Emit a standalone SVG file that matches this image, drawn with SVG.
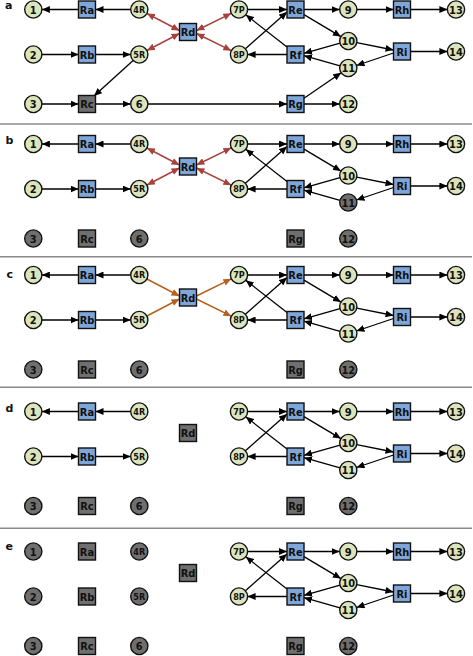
<svg xmlns="http://www.w3.org/2000/svg" width="473" height="656" viewBox="0 0 473 656">
<style>
.c{fill:#dbe5bd;stroke:#111;stroke-width:1.4}
.cg{fill:#6f6f6f;stroke:#111;stroke-width:1.4}
.b{fill:#7ea6d8;stroke:#111;stroke-width:1.4}
.bg{fill:#6f6f6f;stroke:#111;stroke-width:1.4}
.t{font-family:"DejaVu Sans Condensed","DejaVu Sans",sans-serif;font-size:11px;font-weight:bold;text-anchor:middle;fill:#111}
.ts{font-size:9px}
.e{fill:none;stroke:#000;stroke-width:1.3;marker-end:url(#ah)}
.r{fill:none;stroke:#a8413c;stroke-width:1.5;marker-end:url(#ahr);marker-start:url(#ahr)}
.o{fill:none;stroke:#b5601c;stroke-width:1.5;marker-end:url(#aho)}
.sep{stroke:#8a8a8a;stroke-width:1.5}
.lbl{font-family:"DejaVu Sans",sans-serif;font-size:11px;font-weight:bold;fill:#111}
</style>
<defs>
<marker id="ah" viewBox="0 0 8 7" refX="8" refY="3.5" markerWidth="8" markerHeight="7" markerUnits="userSpaceOnUse" orient="auto"><path d="M0,0 L8,3.5 L0,7 z" fill="#000"/></marker>
<marker id="ahr" viewBox="0 0 8 7" refX="8" refY="3.5" markerWidth="8" markerHeight="7" markerUnits="userSpaceOnUse" orient="auto-start-reverse"><path d="M0,0 L8,3.5 L0,7 z" fill="#a8413c"/></marker>
<marker id="aho" viewBox="0 0 8 7" refX="8" refY="3.5" markerWidth="8" markerHeight="7" markerUnits="userSpaceOnUse" orient="auto"><path d="M0,0 L8,3.5 L0,7 z" fill="#b5601c"/></marker>
</defs>

<g id="separators">
<line class="sep" x1="0" y1="124" x2="472" y2="124"/>
<line class="sep" x1="0" y1="256.7" x2="472" y2="256.7"/>
<line class="sep" x1="0" y1="387.3" x2="472" y2="387.3"/>
<line class="sep" x1="0" y1="528.3" x2="472" y2="528.3"/>
</g>
<g id="panel-labels">
<text class="lbl" x="5" y="8.5">a</text>
<text class="lbl" x="5.5" y="144">b</text>
<text class="lbl" x="6.5" y="278">c</text>
<text class="lbl" x="5.5" y="411.7">d</text>
<text class="lbl" x="5.5" y="550">e</text>
</g>

<!-- PANEL A -->
<g id="panel-a">
<g id="a-edges">
<path class="e" d="M130.7,9.5 L95.5,9.5"/>
<path class="e" d="M78.5,9.5 L41.9,9.5"/>
<path class="e" d="M41.9,54.5 L78.5,54.5"/>
<path class="e" d="M95.5,54.5 L130.7,54.5"/>
<path class="e" d="M133.1,60.4 L94,96"/>
<path class="e" d="M41.9,104 L78.5,104"/>
<path class="e" d="M95.5,104 L130.7,104"/>
<path class="e" d="M147.9,104 L287,104"/>
<path class="e" d="M304,104 L339.7,104"/>
<path class="e" d="M247.6,9.5 L287,9.5"/>
<path class="e" d="M245.4,48.8 L287,12"/>
<path class="e" d="M287,47 L245.8,14.8"/>
<path class="e" d="M287,54.5 L247.6,54.5"/>
<path class="e" d="M304,9.5 L339.7,9.5"/>
<path class="e" d="M356.9,9.5 L393.5,9.5"/>
<path class="e" d="M410.5,9.5 L447.4,9.5"/>
<path class="e" d="M304,14.6 L340.9,36.6"/>
<path class="e" d="M340,43.1 L304,53.3"/>
<path class="e" d="M340,65.9 L304,55.7"/>
<path class="e" d="M356.7,42.6 L393.5,50"/>
<path class="e" d="M393.5,53 L356.5,65.5"/>
<path class="e" d="M410.5,51.5 L447.4,51.5"/>
<path class="e" d="M304,98.2 L341.2,72.8"/>
<path class="r" d="M179.5,30.5 L146.9,13.5"/>
<path class="r" d="M179.5,33.5 L146.9,50.5"/>
<path class="r" d="M196.5,30.5 L231.3,13.3"/>
<path class="r" d="M196.5,33.5 L231.3,50.7"/>
</g>
<g id="a-n1"><circle class="c" cx="33.3" cy="9.5" r="8.6"/><text class="t" x="33.3" y="13.5">1</text></g>
<g id="a-Ra"><rect class="b" x="78.5" y="1" width="17" height="17"/><text class="t" x="87" y="13.5">Ra</text></g>
<g id="a-n4R"><circle class="c" cx="139.3" cy="9.5" r="8.6"/><text class="t ts" x="139.3" y="12.8">4R</text></g>
<g id="a-Rd"><rect class="b" x="179.5" y="23.5" width="17" height="17"/><text class="t" x="188" y="36">Rd</text></g>
<g id="a-n7P"><circle class="c" cx="239" cy="9.5" r="8.6"/><text class="t ts" x="239" y="12.8">7P</text></g>
<g id="a-Re"><rect class="b" x="287" y="1" width="17" height="17"/><text class="t" x="295.5" y="13.5">Re</text></g>
<g id="a-n9"><circle class="c" cx="348.3" cy="9.5" r="8.6"/><text class="t" x="348.3" y="13.5">9</text></g>
<g id="a-Rh"><rect class="b" x="393.5" y="1" width="17" height="17"/><text class="t" x="402" y="13.5">Rh</text></g>
<g id="a-n13"><circle class="c" cx="456" cy="9.5" r="8.6"/><text class="t" x="456" y="13.5">13</text></g>
<g id="a-n2"><circle class="c" cx="33.3" cy="54.5" r="8.6"/><text class="t" x="33.3" y="58.5">2</text></g>
<g id="a-Rb"><rect class="b" x="78.5" y="46" width="17" height="17"/><text class="t" x="87" y="58.5">Rb</text></g>
<g id="a-n5R"><circle class="c" cx="139.3" cy="54.5" r="8.6"/><text class="t ts" x="139.3" y="57.8">5R</text></g>
<g id="a-n8P"><circle class="c" cx="239" cy="54.5" r="8.6"/><text class="t ts" x="239" y="57.8">8P</text></g>
<g id="a-Rf"><rect class="b" x="287" y="46" width="17" height="17"/><text class="t" x="295.5" y="58.5">Rf</text></g>
<g id="a-n10"><circle class="c" cx="348.3" cy="41" r="8.6"/><text class="t" x="348.3" y="45">10</text></g>
<g id="a-Ri"><rect class="b" x="393.5" y="43" width="17" height="17"/><text class="t" x="402" y="55.5">Ri</text></g>
<g id="a-n14"><circle class="c" cx="456" cy="51.5" r="8.6"/><text class="t" x="456" y="55.5">14</text></g>
<g id="a-n11"><circle class="c" cx="348.3" cy="68" r="8.6"/><text class="t" x="348.3" y="72">11</text></g>
<g id="a-n3"><circle class="c" cx="33.3" cy="104" r="8.6"/><text class="t" x="33.3" y="108">3</text></g>
<g id="a-Rc"><rect class="bg" x="78.5" y="95.5" width="17" height="17"/><text class="t" x="87" y="108">Rc</text></g>
<g id="a-n6"><circle class="c" cx="139.3" cy="104" r="8.6"/><text class="t" x="139.3" y="108">6</text></g>
<g id="a-Rg"><rect class="b" x="287" y="95.5" width="17" height="17"/><text class="t" x="295.5" y="108">Rg</text></g>
<g id="a-n12"><circle class="c" cx="348.3" cy="104" r="8.6"/><text class="t" x="348.3" y="108">12</text></g>
</g>

<!-- PANEL B -->
<g id="panel-b" transform="translate(0,134.5)">
<g id="b-edges">
<path class="e" d="M130.7,9.5 L95.5,9.5"/>
<path class="e" d="M78.5,9.5 L41.9,9.5"/>
<path class="e" d="M41.9,54.5 L78.5,54.5"/>
<path class="e" d="M95.5,54.5 L130.7,54.5"/>
<path class="e" d="M247.6,9.5 L287,9.5"/>
<path class="e" d="M245.4,48.8 L287,12"/>
<path class="e" d="M287,47 L245.8,14.8"/>
<path class="e" d="M287,54.5 L247.6,54.5"/>
<path class="e" d="M304,9.5 L339.7,9.5"/>
<path class="e" d="M356.9,9.5 L393.5,9.5"/>
<path class="e" d="M410.5,9.5 L447.4,9.5"/>
<path class="e" d="M304,14.6 L340.9,36.6"/>
<path class="e" d="M340,43.1 L304,53.3"/>
<path class="e" d="M340,65.9 L304,55.7"/>
<path class="e" d="M356.7,42.6 L393.5,50"/>
<path class="e" d="M393.5,53 L356.5,65.5"/>
<path class="e" d="M410.5,51.5 L447.4,51.5"/>
<path class="r" d="M179.5,30.5 L146.9,13.5"/>
<path class="r" d="M179.5,33.5 L146.9,50.5"/>
<path class="r" d="M196.5,30.5 L231.3,13.3"/>
<path class="r" d="M196.5,33.5 L231.3,50.7"/>
</g>
<g id="b-n1"><circle class="c" cx="33.3" cy="9.5" r="8.6"/><text class="t" x="33.3" y="13.5">1</text></g>
<g id="b-Ra"><rect class="b" x="78.5" y="1" width="17" height="17"/><text class="t" x="87" y="13.5">Ra</text></g>
<g id="b-n4R"><circle class="c" cx="139.3" cy="9.5" r="8.6"/><text class="t ts" x="139.3" y="12.8">4R</text></g>
<g id="b-Rd"><rect class="b" x="179.5" y="23.5" width="17" height="17"/><text class="t" x="188" y="36">Rd</text></g>
<g id="b-n7P"><circle class="c" cx="239" cy="9.5" r="8.6"/><text class="t ts" x="239" y="12.8">7P</text></g>
<g id="b-Re"><rect class="b" x="287" y="1" width="17" height="17"/><text class="t" x="295.5" y="13.5">Re</text></g>
<g id="b-n9"><circle class="c" cx="348.3" cy="9.5" r="8.6"/><text class="t" x="348.3" y="13.5">9</text></g>
<g id="b-Rh"><rect class="b" x="393.5" y="1" width="17" height="17"/><text class="t" x="402" y="13.5">Rh</text></g>
<g id="b-n13"><circle class="c" cx="456" cy="9.5" r="8.6"/><text class="t" x="456" y="13.5">13</text></g>
<g id="b-n2"><circle class="c" cx="33.3" cy="54.5" r="8.6"/><text class="t" x="33.3" y="58.5">2</text></g>
<g id="b-Rb"><rect class="b" x="78.5" y="46" width="17" height="17"/><text class="t" x="87" y="58.5">Rb</text></g>
<g id="b-n5R"><circle class="c" cx="139.3" cy="54.5" r="8.6"/><text class="t ts" x="139.3" y="57.8">5R</text></g>
<g id="b-n8P"><circle class="c" cx="239" cy="54.5" r="8.6"/><text class="t ts" x="239" y="57.8">8P</text></g>
<g id="b-Rf"><rect class="b" x="287" y="46" width="17" height="17"/><text class="t" x="295.5" y="58.5">Rf</text></g>
<g id="b-n10"><circle class="c" cx="348.3" cy="41" r="8.6"/><text class="t" x="348.3" y="45">10</text></g>
<g id="b-Ri"><rect class="b" x="393.5" y="43" width="17" height="17"/><text class="t" x="402" y="55.5">Ri</text></g>
<g id="b-n14"><circle class="c" cx="456" cy="51.5" r="8.6"/><text class="t" x="456" y="55.5">14</text></g>
<g id="b-n11"><circle class="cg" cx="348.3" cy="68" r="8.6"/><text class="t" x="348.3" y="72">11</text></g>
<g id="b-n3"><circle class="cg" cx="33.3" cy="104" r="8.6"/><text class="t" x="33.3" y="108">3</text></g>
<g id="b-Rc"><rect class="bg" x="78.5" y="95.5" width="17" height="17"/><text class="t" x="87" y="108">Rc</text></g>
<g id="b-n6"><circle class="cg" cx="139.3" cy="104" r="8.6"/><text class="t" x="139.3" y="108">6</text></g>
<g id="b-Rg"><rect class="bg" x="287" y="95.5" width="17" height="17"/><text class="t" x="295.5" y="108">Rg</text></g>
<g id="b-n12"><circle class="cg" cx="348.3" cy="104" r="8.6"/><text class="t" x="348.3" y="108">12</text></g>
</g>

<!-- PANEL C -->
<g id="panel-c" transform="translate(0,265.5)">
<g id="c-edges">
<path class="e" d="M130.7,9.5 L95.5,9.5"/>
<path class="e" d="M78.5,9.5 L41.9,9.5"/>
<path class="e" d="M41.9,54.5 L78.5,54.5"/>
<path class="e" d="M95.5,54.5 L130.7,54.5"/>
<path class="e" d="M247.6,9.5 L287,9.5"/>
<path class="e" d="M245.4,48.8 L287,12"/>
<path class="e" d="M287,47 L245.8,14.8"/>
<path class="e" d="M287,54.5 L247.6,54.5"/>
<path class="e" d="M304,9.5 L339.7,9.5"/>
<path class="e" d="M356.9,9.5 L393.5,9.5"/>
<path class="e" d="M410.5,9.5 L447.4,9.5"/>
<path class="e" d="M304,14.6 L340.9,36.6"/>
<path class="e" d="M340,43.1 L304,53.3"/>
<path class="e" d="M340,65.9 L304,55.7"/>
<path class="e" d="M356.7,42.6 L393.5,50"/>
<path class="e" d="M393.5,53 L356.5,65.5"/>
<path class="e" d="M410.5,51.5 L447.4,51.5"/>
<path class="o" d="M146.9,13.5 L179.5,30.5"/>
<path class="o" d="M146.9,50.5 L179.5,33.5"/>
<path class="o" d="M196.5,30.5 L231.3,13.3"/>
<path class="o" d="M196.5,33.5 L231.3,50.7"/>
</g>
<g id="c-n1"><circle class="c" cx="33.3" cy="9.5" r="8.6"/><text class="t" x="33.3" y="13.5">1</text></g>
<g id="c-Ra"><rect class="b" x="78.5" y="1" width="17" height="17"/><text class="t" x="87" y="13.5">Ra</text></g>
<g id="c-n4R"><circle class="c" cx="139.3" cy="9.5" r="8.6"/><text class="t ts" x="139.3" y="12.8">4R</text></g>
<g id="c-Rd"><rect class="b" x="179.5" y="23.5" width="17" height="17"/><text class="t" x="188" y="36">Rd</text></g>
<g id="c-n7P"><circle class="c" cx="239" cy="9.5" r="8.6"/><text class="t ts" x="239" y="12.8">7P</text></g>
<g id="c-Re"><rect class="b" x="287" y="1" width="17" height="17"/><text class="t" x="295.5" y="13.5">Re</text></g>
<g id="c-n9"><circle class="c" cx="348.3" cy="9.5" r="8.6"/><text class="t" x="348.3" y="13.5">9</text></g>
<g id="c-Rh"><rect class="b" x="393.5" y="1" width="17" height="17"/><text class="t" x="402" y="13.5">Rh</text></g>
<g id="c-n13"><circle class="c" cx="456" cy="9.5" r="8.6"/><text class="t" x="456" y="13.5">13</text></g>
<g id="c-n2"><circle class="c" cx="33.3" cy="54.5" r="8.6"/><text class="t" x="33.3" y="58.5">2</text></g>
<g id="c-Rb"><rect class="b" x="78.5" y="46" width="17" height="17"/><text class="t" x="87" y="58.5">Rb</text></g>
<g id="c-n5R"><circle class="c" cx="139.3" cy="54.5" r="8.6"/><text class="t ts" x="139.3" y="57.8">5R</text></g>
<g id="c-n8P"><circle class="c" cx="239" cy="54.5" r="8.6"/><text class="t ts" x="239" y="57.8">8P</text></g>
<g id="c-Rf"><rect class="b" x="287" y="46" width="17" height="17"/><text class="t" x="295.5" y="58.5">Rf</text></g>
<g id="c-n10"><circle class="c" cx="348.3" cy="41" r="8.6"/><text class="t" x="348.3" y="45">10</text></g>
<g id="c-Ri"><rect class="b" x="393.5" y="43" width="17" height="17"/><text class="t" x="402" y="55.5">Ri</text></g>
<g id="c-n14"><circle class="c" cx="456" cy="51.5" r="8.6"/><text class="t" x="456" y="55.5">14</text></g>
<g id="c-n11"><circle class="c" cx="348.3" cy="68" r="8.6"/><text class="t" x="348.3" y="72">11</text></g>
<g id="c-n3"><circle class="cg" cx="33.3" cy="104" r="8.6"/><text class="t" x="33.3" y="108">3</text></g>
<g id="c-Rc"><rect class="bg" x="78.5" y="95.5" width="17" height="17"/><text class="t" x="87" y="108">Rc</text></g>
<g id="c-n6"><circle class="cg" cx="139.3" cy="104" r="8.6"/><text class="t" x="139.3" y="108">6</text></g>
<g id="c-Rg"><rect class="bg" x="287" y="95.5" width="17" height="17"/><text class="t" x="295.5" y="108">Rg</text></g>
<g id="c-n12"><circle class="cg" cx="348.3" cy="104" r="8.6"/><text class="t" x="348.3" y="108">12</text></g>
</g>

<!-- PANEL D -->
<g id="panel-d" transform="translate(0,402)">
<g id="d-edges">
<path class="e" d="M130.7,9.5 L95.5,9.5"/>
<path class="e" d="M78.5,9.5 L41.9,9.5"/>
<path class="e" d="M41.9,54.5 L78.5,54.5"/>
<path class="e" d="M95.5,54.5 L130.7,54.5"/>
<path class="e" d="M247.6,9.5 L287,9.5"/>
<path class="e" d="M245.4,48.8 L287,12"/>
<path class="e" d="M287,47 L245.8,14.8"/>
<path class="e" d="M287,54.5 L247.6,54.5"/>
<path class="e" d="M304,9.5 L339.7,9.5"/>
<path class="e" d="M356.9,9.5 L393.5,9.5"/>
<path class="e" d="M410.5,9.5 L447.4,9.5"/>
<path class="e" d="M304,14.6 L340.9,36.6"/>
<path class="e" d="M340,43.1 L304,53.3"/>
<path class="e" d="M340,65.9 L304,55.7"/>
<path class="e" d="M356.7,42.6 L393.5,50"/>
<path class="e" d="M393.5,53 L356.5,65.5"/>
<path class="e" d="M410.5,51.5 L447.4,51.5"/>
</g>
<g id="d-n1"><circle class="c" cx="33.3" cy="9.5" r="8.6"/><text class="t" x="33.3" y="13.5">1</text></g>
<g id="d-Ra"><rect class="b" x="78.5" y="1" width="17" height="17"/><text class="t" x="87" y="13.5">Ra</text></g>
<g id="d-n4R"><circle class="c" cx="139.3" cy="9.5" r="8.6"/><text class="t ts" x="139.3" y="12.8">4R</text></g>
<g id="d-Rd"><rect class="bg" x="179.5" y="22.5" width="17" height="17"/><text class="t" x="188" y="35">Rd</text></g>
<g id="d-n7P"><circle class="c" cx="239" cy="9.5" r="8.6"/><text class="t ts" x="239" y="12.8">7P</text></g>
<g id="d-Re"><rect class="b" x="287" y="1" width="17" height="17"/><text class="t" x="295.5" y="13.5">Re</text></g>
<g id="d-n9"><circle class="c" cx="348.3" cy="9.5" r="8.6"/><text class="t" x="348.3" y="13.5">9</text></g>
<g id="d-Rh"><rect class="b" x="393.5" y="1" width="17" height="17"/><text class="t" x="402" y="13.5">Rh</text></g>
<g id="d-n13"><circle class="c" cx="456" cy="9.5" r="8.6"/><text class="t" x="456" y="13.5">13</text></g>
<g id="d-n2"><circle class="c" cx="33.3" cy="54.5" r="8.6"/><text class="t" x="33.3" y="58.5">2</text></g>
<g id="d-Rb"><rect class="b" x="78.5" y="46" width="17" height="17"/><text class="t" x="87" y="58.5">Rb</text></g>
<g id="d-n5R"><circle class="c" cx="139.3" cy="54.5" r="8.6"/><text class="t ts" x="139.3" y="57.8">5R</text></g>
<g id="d-n8P"><circle class="c" cx="239" cy="54.5" r="8.6"/><text class="t ts" x="239" y="57.8">8P</text></g>
<g id="d-Rf"><rect class="b" x="287" y="46" width="17" height="17"/><text class="t" x="295.5" y="58.5">Rf</text></g>
<g id="d-n10"><circle class="c" cx="348.3" cy="41" r="8.6"/><text class="t" x="348.3" y="45">10</text></g>
<g id="d-Ri"><rect class="b" x="393.5" y="43" width="17" height="17"/><text class="t" x="402" y="55.5">Ri</text></g>
<g id="d-n14"><circle class="c" cx="456" cy="51.5" r="8.6"/><text class="t" x="456" y="55.5">14</text></g>
<g id="d-n11"><circle class="c" cx="348.3" cy="68" r="8.6"/><text class="t" x="348.3" y="72">11</text></g>
<g id="d-n3"><circle class="cg" cx="33.3" cy="104" r="8.6"/><text class="t" x="33.3" y="108">3</text></g>
<g id="d-Rc"><rect class="bg" x="78.5" y="95.5" width="17" height="17"/><text class="t" x="87" y="108">Rc</text></g>
<g id="d-n6"><circle class="cg" cx="139.3" cy="104" r="8.6"/><text class="t" x="139.3" y="108">6</text></g>
<g id="d-Rg"><rect class="bg" x="287" y="95.5" width="17" height="17"/><text class="t" x="295.5" y="108">Rg</text></g>
<g id="d-n12"><circle class="cg" cx="348.3" cy="104" r="8.6"/><text class="t" x="348.3" y="108">12</text></g>
</g>

<!-- PANEL E -->
<g id="panel-e" transform="translate(0,542)">
<g id="e-edges">
<path class="e" d="M247.6,9.5 L287,9.5"/>
<path class="e" d="M245.4,48.8 L287,12"/>
<path class="e" d="M287,47 L245.8,14.8"/>
<path class="e" d="M287,54.5 L247.6,54.5"/>
<path class="e" d="M304,9.5 L339.7,9.5"/>
<path class="e" d="M356.9,9.5 L393.5,9.5"/>
<path class="e" d="M410.5,9.5 L447.4,9.5"/>
<path class="e" d="M304,14.6 L340.9,36.6"/>
<path class="e" d="M340,43.1 L304,53.3"/>
<path class="e" d="M340,65.9 L304,55.7"/>
<path class="e" d="M356.7,42.6 L393.5,50"/>
<path class="e" d="M393.5,53 L356.5,65.5"/>
<path class="e" d="M410.5,51.5 L447.4,51.5"/>
</g>
<g id="e-n1"><circle class="cg" cx="33.3" cy="9.5" r="8.6"/><text class="t" x="33.3" y="13.5">1</text></g>
<g id="e-Ra"><rect class="bg" x="78.5" y="1" width="17" height="17"/><text class="t" x="87" y="13.5">Ra</text></g>
<g id="e-n4R"><circle class="cg" cx="139.3" cy="9.5" r="8.6"/><text class="t ts" x="139.3" y="12.8">4R</text></g>
<g id="e-Rd"><rect class="bg" x="179.5" y="22.5" width="17" height="17"/><text class="t" x="188" y="35">Rd</text></g>
<g id="e-n7P"><circle class="c" cx="239" cy="9.5" r="8.6"/><text class="t ts" x="239" y="12.8">7P</text></g>
<g id="e-Re"><rect class="b" x="287" y="1" width="17" height="17"/><text class="t" x="295.5" y="13.5">Re</text></g>
<g id="e-n9"><circle class="c" cx="348.3" cy="9.5" r="8.6"/><text class="t" x="348.3" y="13.5">9</text></g>
<g id="e-Rh"><rect class="b" x="393.5" y="1" width="17" height="17"/><text class="t" x="402" y="13.5">Rh</text></g>
<g id="e-n13"><circle class="c" cx="456" cy="9.5" r="8.6"/><text class="t" x="456" y="13.5">13</text></g>
<g id="e-n2"><circle class="cg" cx="33.3" cy="54.5" r="8.6"/><text class="t" x="33.3" y="58.5">2</text></g>
<g id="e-Rb"><rect class="bg" x="78.5" y="46" width="17" height="17"/><text class="t" x="87" y="58.5">Rb</text></g>
<g id="e-n5R"><circle class="cg" cx="139.3" cy="54.5" r="8.6"/><text class="t ts" x="139.3" y="57.8">5R</text></g>
<g id="e-n8P"><circle class="c" cx="239" cy="54.5" r="8.6"/><text class="t ts" x="239" y="57.8">8P</text></g>
<g id="e-Rf"><rect class="b" x="287" y="46" width="17" height="17"/><text class="t" x="295.5" y="58.5">Rf</text></g>
<g id="e-n10"><circle class="c" cx="348.3" cy="41" r="8.6"/><text class="t" x="348.3" y="45">10</text></g>
<g id="e-Ri"><rect class="b" x="393.5" y="43" width="17" height="17"/><text class="t" x="402" y="55.5">Ri</text></g>
<g id="e-n14"><circle class="c" cx="456" cy="51.5" r="8.6"/><text class="t" x="456" y="55.5">14</text></g>
<g id="e-n11"><circle class="c" cx="348.3" cy="68" r="8.6"/><text class="t" x="348.3" y="72">11</text></g>
<g id="e-n3"><circle class="cg" cx="33.3" cy="104" r="8.6"/><text class="t" x="33.3" y="108">3</text></g>
<g id="e-Rc"><rect class="bg" x="78.5" y="95.5" width="17" height="17"/><text class="t" x="87" y="108">Rc</text></g>
<g id="e-n6"><circle class="cg" cx="139.3" cy="104" r="8.6"/><text class="t" x="139.3" y="108">6</text></g>
<g id="e-Rg"><rect class="bg" x="287" y="95.5" width="17" height="17"/><text class="t" x="295.5" y="108">Rg</text></g>
<g id="e-n12"><circle class="cg" cx="348.3" cy="104" r="8.6"/><text class="t" x="348.3" y="108">12</text></g>
</g>
</svg>
